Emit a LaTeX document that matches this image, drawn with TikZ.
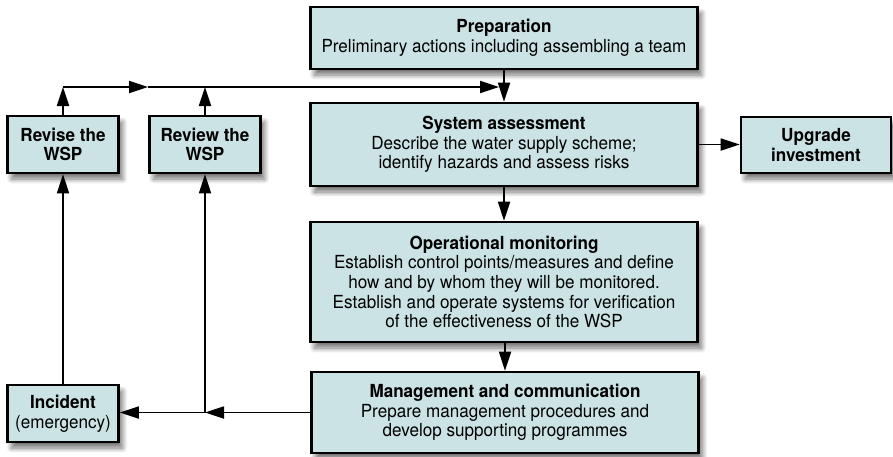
\documentclass[tikz,border=0pt]{standalone}
\usepackage{fontspec}
\setmainfont[FakeStretch=0.95]{TeX Gyre Heros}
\usetikzlibrary{arrows.meta,shadows.blur}
\definecolor{boxfill}{RGB}{203,227,228}
\begin{document}
\begin{tikzpicture}[x=1pt,y=-1pt,
 box/.style={draw=black, line width=2.6pt, fill=boxfill, align=center, inner sep=0pt,
   font=\fontsize{18}{19.6}\selectfont,
   blur shadow={shadow xshift=4pt, shadow yshift=-6pt, shadow blur radius=5pt, shadow blur steps=10, shadow opacity=55}},
 wide/.style={minimum width=387pt},
 small/.style={minimum width=111pt, minimum height=57pt},
 conn/.style={line width=1.8pt},
 arr/.style={conn, -{Triangle[length=19pt,width=12pt]}},
]
\useasboundingbox (0,0) rectangle (893,456);

\node[box, wide, minimum height=62pt] (prep) at (504,38)
  {\textbf{Preparation}\\Preliminary actions including assembling a team};
\node[box, wide, minimum height=83pt] (sys) at (504,144.5)
  {\textbf{System assessment}\\Describe the water supply scheme;\\identify hazards and assess risks};
\node[box, wide, minimum height=120pt] (op) at (504,282)
  {\textbf{Operational monitoring}\\Establish control points/measures and define\\how and by whom they will be monitored.\\Establish and operate systems for verification\\of the effectiveness of the WSP};
\node[box, wide, minimum height=81pt] (mgmt) at (505,412.5)
  {\textbf{Management and communication}\\Prepare management procedures and\\develop supporting programmes};
\node[box, minimum width=150pt, minimum height=56pt] (upg) at (816,145)
  {\textbf{Upgrade}\\\textbf{investment}};
\node[box, small] (revise) at (63,144.5) {\textbf{Revise the}\\\textbf{WSP}};
\node[box, small] (review) at (205,144.5) {\textbf{Review the}\\\textbf{WSP}};
\node[box, small] (incident) at (63,413.5) {\textbf{Incident}\\(emergency)};

% main chain
\draw[arr] (prep.south) -- (sys.north);
\draw[arr] (sys.south) -- (op.north);
\draw[arr] (op.south -| mgmt.north) -- (mgmt.north);
\draw[arr] (sys.east) -- (upg.west |- sys.east);

% bottom feedback
\coordinate (jb) at (review |- mgmt.west);
\draw[arr] (mgmt.west) -- (jb);
\draw[arr] (jb) -- (incident.east |- jb);
\draw[arr] (jb) -- (review.south);
\draw[arr] (incident.north) -- (revise.south);

% top loop
\coordinate (ytop) at (0,87);
\coordinate (t1) at (revise |- ytop);
\coordinate (t2) at (review |- ytop);
\coordinate (tm) at (148,87);
\coordinate (tend) at (499,87);
\draw[arr] (revise.north) -- (t1);
\draw[arr] (review.north) -- (t2);
\draw[arr] (t1) -- (tm);
\draw[arr] (tm) -- (tend);
\end{tikzpicture}
\end{document}
